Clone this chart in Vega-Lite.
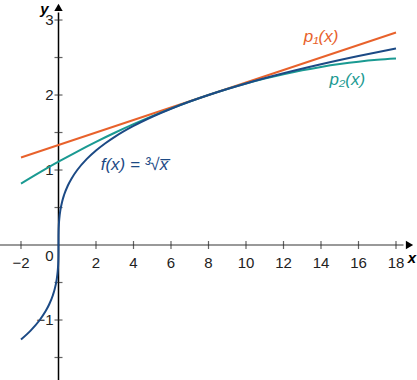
{
  "$schema": "https://vega.github.io/schema/vega-lite/v6.json",
  "width": 417,
  "height": 380,
  "padding": 0,
  "autosize": {"type": "none"},
  "config": {"view": {"stroke": null}, "font": "Liberation Sans"},
  "datasets": {
    "curves": [
      {"s": "p1", "x": -2, "y": 1.1667},
      {"s": "p1", "x": 8, "y": 2},
      {"s": "p1", "x": 18, "y": 2.8333},
      {"s": "p2", "x": -2, "y": 0.8194},
      {"s": "p2", "x": -1, "y": 0.9688},
      {"s": "p2", "x": 0, "y": 1.1111},
      {"s": "p2", "x": 1, "y": 1.2465},
      {"s": "p2", "x": 2, "y": 1.375},
      {"s": "p2", "x": 3, "y": 1.4965},
      {"s": "p2", "x": 4, "y": 1.6111},
      {"s": "p2", "x": 5, "y": 1.7188},
      {"s": "p2", "x": 6, "y": 1.8194},
      {"s": "p2", "x": 7, "y": 1.9132},
      {"s": "p2", "x": 8, "y": 2},
      {"s": "p2", "x": 9, "y": 2.0799},
      {"s": "p2", "x": 10, "y": 2.1528},
      {"s": "p2", "x": 11, "y": 2.2188},
      {"s": "p2", "x": 12, "y": 2.2778},
      {"s": "p2", "x": 13, "y": 2.3299},
      {"s": "p2", "x": 14, "y": 2.375},
      {"s": "p2", "x": 15, "y": 2.4132},
      {"s": "p2", "x": 16, "y": 2.4444},
      {"s": "p2", "x": 17, "y": 2.4688},
      {"s": "p2", "x": 18, "y": 2.4861},
      {"s": "f", "x": -2, "y": -1.2599},
      {"s": "f", "x": -1.5, "y": -1.1447},
      {"s": "f", "x": -1, "y": -1},
      {"s": "f", "x": -0.7, "y": -0.8879},
      {"s": "f", "x": -0.5, "y": -0.7937},
      {"s": "f", "x": -0.3, "y": -0.6694},
      {"s": "f", "x": -0.2, "y": -0.5848},
      {"s": "f", "x": -0.1, "y": -0.4642},
      {"s": "f", "x": -0.05, "y": -0.3684},
      {"s": "f", "x": -0.02, "y": -0.2714},
      {"s": "f", "x": -0.005, "y": -0.171},
      {"s": "f", "x": -0.001, "y": -0.1},
      {"s": "f", "x": 0, "y": 0},
      {"s": "f", "x": 0.001, "y": 0.1},
      {"s": "f", "x": 0.005, "y": 0.171},
      {"s": "f", "x": 0.02, "y": 0.2714},
      {"s": "f", "x": 0.05, "y": 0.3684},
      {"s": "f", "x": 0.1, "y": 0.4642},
      {"s": "f", "x": 0.2, "y": 0.5848},
      {"s": "f", "x": 0.3, "y": 0.6694},
      {"s": "f", "x": 0.5, "y": 0.7937},
      {"s": "f", "x": 0.7, "y": 0.8879},
      {"s": "f", "x": 1, "y": 1},
      {"s": "f", "x": 1.5, "y": 1.1447},
      {"s": "f", "x": 2, "y": 1.2599},
      {"s": "f", "x": 2.5, "y": 1.3572},
      {"s": "f", "x": 3, "y": 1.4422},
      {"s": "f", "x": 4, "y": 1.5874},
      {"s": "f", "x": 5, "y": 1.71},
      {"s": "f", "x": 6, "y": 1.8171},
      {"s": "f", "x": 7, "y": 1.9129},
      {"s": "f", "x": 8, "y": 2},
      {"s": "f", "x": 9, "y": 2.0801},
      {"s": "f", "x": 10, "y": 2.1544},
      {"s": "f", "x": 12, "y": 2.2894},
      {"s": "f", "x": 14, "y": 2.4101},
      {"s": "f", "x": 16, "y": 2.5198},
      {"s": "f", "x": 18, "y": 2.6207}
    ],
    "xticks": [
      {"v": -2, "label": "−2"}, {"v": 2, "label": "2"}, {"v": 4, "label": "4"},
      {"v": 6, "label": "6"}, {"v": 8, "label": "8"}, {"v": 10, "label": "10"},
      {"v": 12, "label": "12"}, {"v": 14, "label": "14"}, {"v": 16, "label": "16"},
      {"v": 18, "label": "18"}
    ],
    "yticks": [
      {"v": -1.5}, {"v": -1}, {"v": -0.5}, {"v": 0.5}, {"v": 1},
      {"v": 1.5}, {"v": 2}, {"v": 2.5}, {"v": 3}
    ],
    "ylabels": [
      {"v": -1, "label": "−1"}, {"v": 1, "label": "1"}, {"v": 2, "label": "2"}, {"v": 3, "label": "3"}
    ],
    "labels": [
      {"s": "p1", "x": 14.0, "y": 2.77, "label": "p₁(x)"},
      {"s": "p2", "x": 15.4, "y": 2.2, "label": "p₂(x)"},
      {"s": "f", "x": 4.05, "y": 1.07, "label": "f(x)  =  ³√x̅"}
    ]
  },
  "layer": [
    {
      "data": {"values": [{"x1": -3.3, "x2": 18.4, "y": 0}]},
      "mark": {"type": "rule", "color": "#777777", "strokeWidth": 1.5},
      "encoding": {
        "x": {"field": "x1", "type": "quantitative", "scale": {"domain": [-3.12, 19.12], "nice": false, "zero": false}, "axis": null},
        "x2": {"field": "x2"},
        "y": {"field": "y", "type": "quantitative", "scale": {"domain": [-1.8, 3.267], "nice": false, "zero": false}, "axis": null}
      }
    },
    {
      "data": {"values": [{"x": 0, "y1": -1.9, "y2": 3.1}]},
      "mark": {"type": "rule", "color": "#000000", "strokeWidth": 1.5},
      "encoding": {
        "x": {"field": "x", "type": "quantitative"},
        "y": {"field": "y1", "type": "quantitative"},
        "y2": {"field": "y2"}
      }
    },
    {
      "data": {"values": [{"x": 18.72, "y": 0, "shape": "triangle-right"}, {"x": 0, "y": 3.17, "shape": "triangle-up"}]},
      "mark": {"type": "point", "filled": true, "color": "#000000", "size": 70, "opacity": 1},
      "encoding": {
        "x": {"field": "x", "type": "quantitative"},
        "y": {"field": "y", "type": "quantitative"},
        "shape": {"field": "shape", "type": "nominal", "scale": null, "legend": null}
      }
    },
    {
      "data": {"name": "xticks"},
      "mark": {"type": "tick", "orient": "vertical", "size": 8, "thickness": 1.2, "color": "#222222"},
      "encoding": {
        "x": {"field": "v", "type": "quantitative"},
        "y": {"datum": 0, "type": "quantitative"}
      }
    },
    {
      "data": {"name": "yticks"},
      "mark": {"type": "tick", "orient": "horizontal", "size": 8, "thickness": 1.2, "color": "#222222"},
      "encoding": {
        "x": {"datum": 0, "type": "quantitative"},
        "y": {"field": "v", "type": "quantitative"}
      }
    },
    {
      "data": {"name": "xticks"},
      "mark": {"type": "text", "dy": 18, "fontSize": 15, "color": "#222222", "baseline": "middle"},
      "encoding": {
        "x": {"field": "v", "type": "quantitative"},
        "y": {"datum": 0, "type": "quantitative"},
        "text": {"field": "label"}
      }
    },
    {
      "data": {"name": "ylabels"},
      "mark": {"type": "text", "dx": -5, "fontSize": 15, "color": "#222222", "baseline": "middle", "align": "right"},
      "encoding": {
        "x": {"datum": 0, "type": "quantitative"},
        "y": {"field": "v", "type": "quantitative"},
        "text": {"field": "label"}
      }
    },
    {
      "data": {"values": [{"x": 0, "y": 0, "label": "0"}]},
      "mark": {"type": "text", "dx": -9, "dy": 11, "fontSize": 15, "color": "#222222", "baseline": "middle"},
      "encoding": {
        "x": {"field": "x", "type": "quantitative"},
        "y": {"field": "y", "type": "quantitative"},
        "text": {"field": "label"}
      }
    },
    {
      "data": {"values": [{"x": 18.85, "y": -0.17, "label": "x"}, {"x": -0.75, "y": 3.15, "label": "y"}]},
      "mark": {"type": "text", "fontSize": 15, "fontWeight": "bold", "fontStyle": "italic", "color": "#000000", "baseline": "middle"},
      "encoding": {
        "x": {"field": "x", "type": "quantitative"},
        "y": {"field": "y", "type": "quantitative"},
        "text": {"field": "label"}
      }
    },
    {
      "data": {"name": "curves"},
      "mark": {"type": "line", "strokeWidth": 2, "interpolate": "monotone"},
      "encoding": {
        "x": {"field": "x", "type": "quantitative"},
        "y": {"field": "y", "type": "quantitative"},
        "color": {"field": "s", "type": "nominal", "scale": {"domain": ["p1", "p2", "f"], "range": ["#e8622c", "#1a9a92", "#1c4a85"]}, "legend": null},
        "order": {"field": "x", "type": "quantitative"}
      }
    },
    {
      "data": {"name": "labels"},
      "mark": {"type": "text", "fontSize": 17, "fontStyle": "italic", "baseline": "middle"},
      "encoding": {
        "x": {"field": "x", "type": "quantitative"},
        "y": {"field": "y", "type": "quantitative"},
        "text": {"field": "label"},
        "color": {"field": "s", "type": "nominal", "legend": null}
      }
    }
  ]
}
